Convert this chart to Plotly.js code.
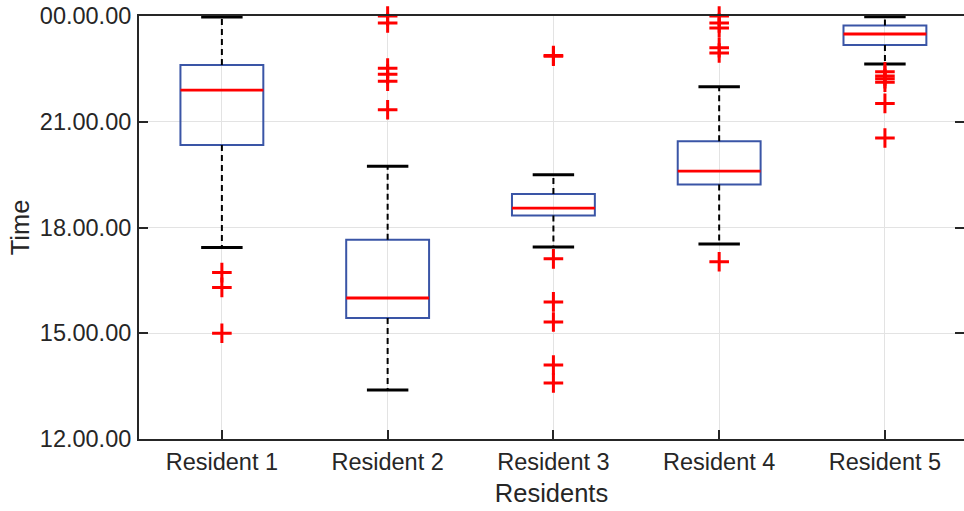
<!DOCTYPE html>
<html>
<head>
<meta charset="utf-8">
<script src="https://cdn.plot.ly/plotly-3.0.1.min.js"></script>
<style>html,body{margin:0;padding:0;background:#fff}#chart{width:964px;height:511px}</style>
</head>
<body>
<div id="chart"></div>
<script>
// Data (hours of day; 24 = midnight)
const residents = ["Resident 1", "Resident 2", "Resident 3", "Resident 4", "Resident 5"];
const q1 = [20.34, 15.43, 18.34, 19.22, 23.18];
const medians = [21.90, 16.00, 18.55, 19.60, 23.49];
const q3 = [22.61, 17.65, 18.95, 20.45, 23.73];
const lowerWhisker = [17.43, 13.39, 17.45, 17.53, 22.64];
const upperWhisker = [23.97, 19.74, 19.50, 21.99, 23.98];
const outliersR1 = [16.72, 16.30, 15.00];
const outliersR2 = [24.00, 23.80, 22.52, 22.35, 22.15, 21.34];
const outliersR3 = [22.88, 22.86, 17.11, 15.89, 15.32, 14.10, 13.59];
const outliersR4 = [24.00, 23.80, 23.66, 23.10, 22.95, 17.03];
const outliersR5 = [22.42, 22.30, 22.22, 22.12, 21.52, 20.54];
const yTickVals = [12, 15, 18, 21, 24];
const yTickText = ["12.00.00", "15.00.00", "18.00.00", "21.00.00", "00.00.00"];

const outliers = [outliersR1, outliersR2, outliersR3, outliersR4, outliersR5];
const pos = residents.map((_, i) => i + 1);
const boxHalf = 0.25, capHalf = 0.125;

const ink = "#262626";
const traces = [];

// whiskers (dashed)
const wx = [], wy = [];
pos.forEach((p, i) => {
  wx.push(p, p, null, p, p, null);
  wy.push(q3[i], upperWhisker[i], null, q1[i], lowerWhisker[i], null);
});
traces.push({type: "scatter", mode: "lines", x: wx, y: wy, cliponaxis: false,
  line: {color: "#000", width: 2, dash: "6px,4px"}, hoverinfo: "skip", showlegend: false});

// caps
const cx = [], cy = [];
pos.forEach((p, i) => {
  cx.push(p - capHalf, p + capHalf, null, p - capHalf, p + capHalf, null);
  cy.push(upperWhisker[i], upperWhisker[i], null, lowerWhisker[i], lowerWhisker[i], null);
});
traces.push({type: "scatter", mode: "lines", x: cx, y: cy, cliponaxis: false,
  line: {color: "#000", width: 3}, hoverinfo: "skip", showlegend: false});

// boxes
traces.push({type: "box", x: pos, q1: q1, median: medians, q3: q3,
  lowerfence: q1, upperfence: q3, width: 2 * boxHalf, whiskerwidth: 0,
  fillcolor: "rgba(0,0,0,0)", line: {color: "#3a55a6", width: 2},
  boxpoints: false, hoverinfo: "skip", showlegend: false});

// medians
const mx = [], my = [];
pos.forEach((p, i) => {
  mx.push(p - boxHalf, p + boxHalf, null);
  my.push(medians[i], medians[i], null);
});
traces.push({type: "scatter", mode: "lines", x: mx, y: my,
  line: {color: "#ff0000", width: 2.8}, hoverinfo: "skip", showlegend: false});

// outliers
const ox = [], oy = [];
outliers.forEach((arr, i) => arr.forEach(v => { ox.push(pos[i]); oy.push(v); }));
traces.push({type: "scatter", mode: "markers", x: ox, y: oy, cliponaxis: false,
  marker: {symbol: "cross-thin", size: 14, line: {color: "#ff0000", width: 3}},
  hoverinfo: "skip", showlegend: false});

const layout = {
  width: 964, height: 511,
  margin: {l: 139, r: 0, t: 16, b: 72, pad: 0},
  paper_bgcolor: "#fff", plot_bgcolor: "#fff",
  font: {family: "Liberation Sans, Arial, sans-serif", color: ink, size: 23.5},
  showlegend: false,
  xaxis: {
    range: [0.5, 5.477], tickmode: "array", tickvals: pos, ticktext: residents,
    ticks: "inside", ticklen: 9, tickwidth: 2, tickcolor: ink,
    showline: true, linecolor: ink, linewidth: 2, mirror: true,
    showgrid: true, gridcolor: "#e3e3e3", gridwidth: 1, zeroline: false,
    tickfont: {size: 23.5, color: ink}, ticklabelstandoff: 1,
    title: {text: "Residents", font: {size: 25.5, color: ink}, standoff: 10}
  },
  yaxis: {
    range: [12, 24], tickmode: "array", tickvals: yTickVals, ticktext: yTickText,
    ticks: "inside", ticklen: 9, tickwidth: 2, tickcolor: ink,
    showline: true, linecolor: ink, linewidth: 2, mirror: "ticks",
    showgrid: true, gridcolor: "#e3e3e3", gridwidth: 1, zeroline: false,
    tickfont: {size: 23.5, color: ink}, ticklabelstandoff: 1,
    title: {text: "Time", font: {size: 25.5, color: ink}, standoff: 3}
  }
};

Plotly.newPlot("chart", traces, layout, {staticPlot: true, displayModeBar: false});
</script>
</body>
</html>
